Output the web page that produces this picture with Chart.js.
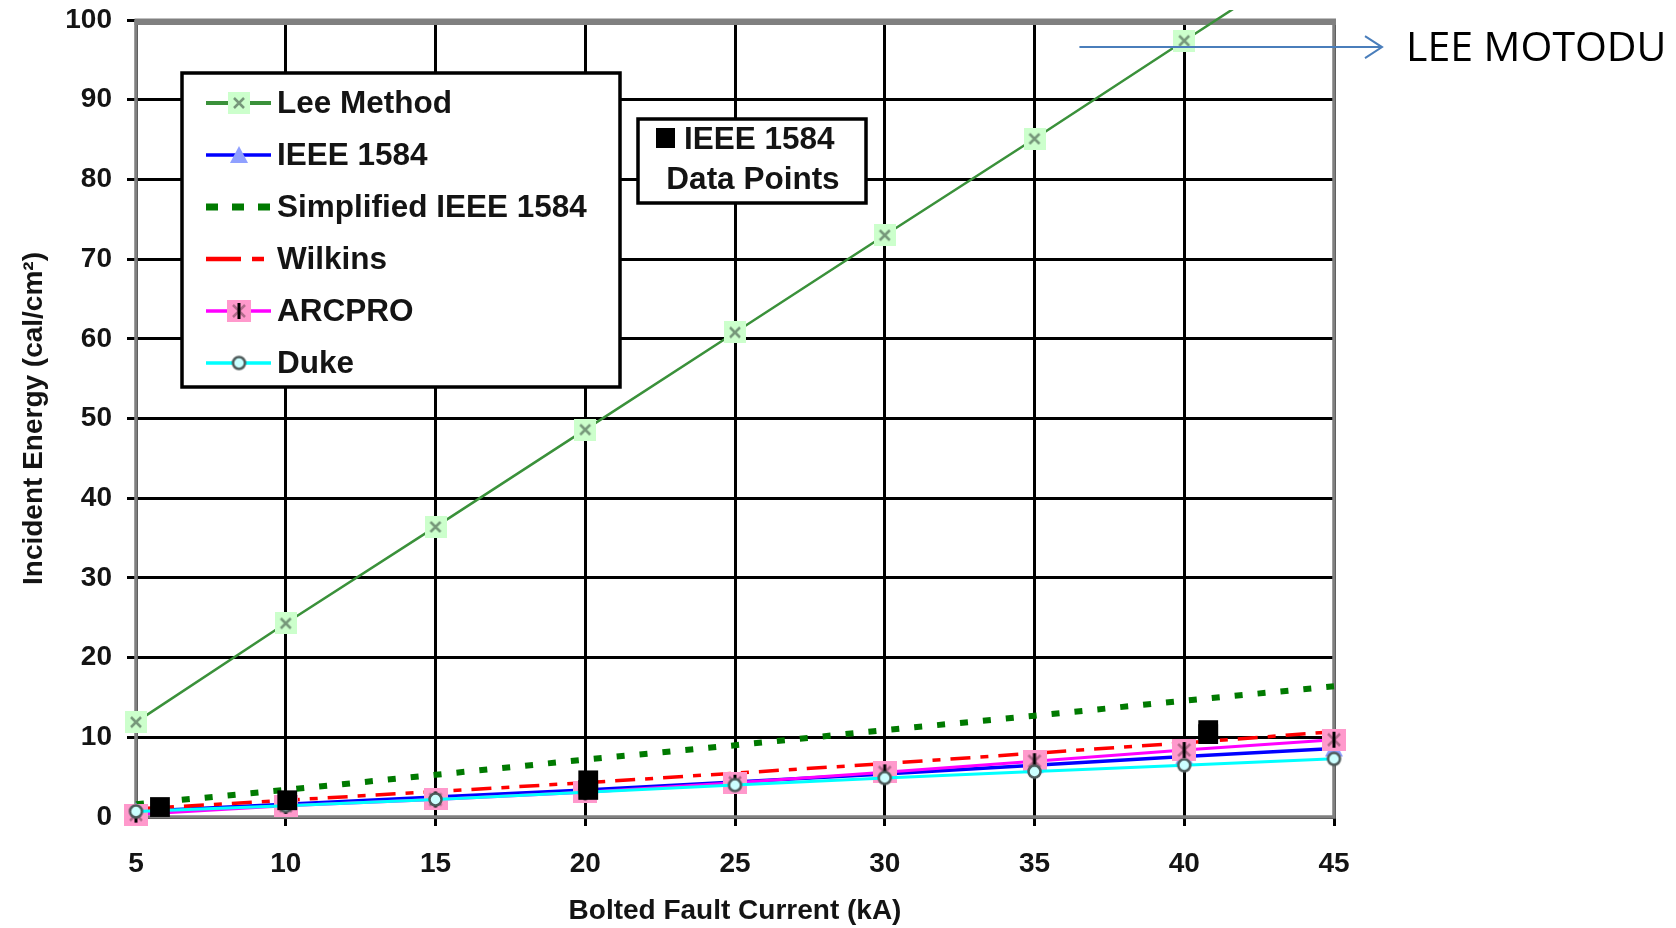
<!DOCTYPE html>
<html>
<head>
<meta charset="utf-8">
<script src="https://cdn.jsdelivr.net/npm/chart.js@4.4.1/dist/chart.umd.min.js"></script>
<style>
  html, body { margin: 0; padding: 0; background: #fff; }
  #caja { width: 1676px; height: 928px; }
</style>
</head>
<body>
<div id="caja"><canvas id="grafico" width="1676" height="928"></canvas></div>
<script>
// DATOS
const corrientes = [5, 10, 15, 20, 25, 30, 35, 40, 45];
const leeMethod = [11.9, 24.3, 36.4, 48.6, 60.8, 73.0, 85.1, 97.4, 109.6];
const ieee1584 = [0.7, 1.6, 2.5, 3.4, 4.4, 5.4, 6.5, 7.6, 8.6];
const simplificado = [1.6, 3.4, 5.3, 7.2, 9.0, 10.9, 12.7, 14.6, 16.4];
const wilkins = [1.0, 2.1, 3.2, 4.3, 5.5, 6.7, 8.0, 9.3, 10.7];
const arcpro = [0.3, 1.4, 2.2, 3.1, 4.3, 5.6, 7.0, 8.4, 9.7];
const duke = [0.7, 1.4, 2.2, 3.1, 4.0, 4.9, 5.7, 6.5, 7.3];

// IEEE 1584 data points (black squares)
const puntosX = [5.8, 10.05, 20.1, 20.1, 40.8, 40.8];
const puntosY = [1.25, 2.1, 3.4, 4.6, 10.4, 10.9];

const ticksX = [5, 10, 15, 20, 25, 30, 35, 40, 45];
const ticksY = [0, 10, 20, 30, 40, 50, 60, 70, 80, 90, 100];

const fuente = 'Liberation Sans, Arial, sans-serif';
const colorTexto = '#141414';

function serie(valores) {
  return corrientes.map((c, i) => ({ x: c, y: valores[i] }));
}

// MARCADORES
function hacerMarcador(w, h, dibujar) {
  const c = document.createElement('canvas');
  c.width = w;
  c.height = h;
  dibujar(c.getContext('2d'), w, h);
  return c;
}

const marcaLee = hacerMarcador(22, 22, (g, w, h) => {
  g.fillStyle = '#ccffcc';
  g.fillRect(0, 0, w, h);
  g.strokeStyle = '#76977a';
  g.lineWidth = 2.5;
  g.beginPath();
  g.moveTo(6, 6); g.lineTo(16, 16);
  g.moveTo(16, 6); g.lineTo(6, 16);
  g.stroke();
});

const marcaIeee = hacerMarcador(20, 20, (g, w, h) => {
  g.fillStyle = '#8fa0ff';
  g.beginPath();
  g.moveTo(w / 2, 1);
  g.lineTo(w - 1, h - 2);
  g.lineTo(1, h - 2);
  g.closePath();
  g.fill();
});

const marcaArcpro = hacerMarcador(24, 22, (g, w, h) => {
  g.fillStyle = '#ff99cc';
  g.fillRect(0, 0, w, h);
  g.strokeStyle = '#b06a8a';
  g.lineWidth = 2.5;
  g.beginPath();
  g.moveTo(6, 5); g.lineTo(18, 17);
  g.moveTo(18, 5); g.lineTo(6, 17);
  g.stroke();
  g.fillStyle = '#000';
  g.fillRect(w / 2 - 1.5, 3, 3, h - 6);
});

const marcaDuke = hacerMarcador(17, 17, (g, w, h) => {
  g.fillStyle = '#ccffff';
  g.strokeStyle = '#4d5a5a';
  g.lineWidth = 2.5;
  g.beginPath();
  g.arc(w / 2, h / 2, 6, 0, Math.PI * 2);
  g.fill();
  g.stroke();
});

// MARCO GRIS
const marco = {
  id: 'marco',
  beforeDatasetsDraw(chart) {
    const { ctx, chartArea: a } = chart;
    ctx.save();
    ctx.strokeStyle = '#808080';
    ctx.lineWidth = 3.5;
    ctx.beginPath();
    ctx.moveTo(a.left, a.top);
    ctx.lineTo(a.left, a.bottom);
    ctx.lineTo(a.right, a.bottom);
    ctx.lineTo(a.right, a.top);
    ctx.stroke();
    ctx.lineWidth = 6.5;
    ctx.beginPath();
    ctx.moveTo(a.left - 1.5, a.top + 1.75);
    ctx.lineTo(a.right + 2, a.top + 1.75);
    ctx.stroke();
    ctx.restore();
  }
};

// LEYENDA, CUADRO DE PUNTOS Y FLECHA
const leyenda = {
  id: 'leyenda',
  afterDraw(chart) {
    const { ctx, chartArea: a } = chart;
    const xs = chart.scales.x, ys = chart.scales.y;
    ctx.save();

    // caja de la leyenda
    const bx = a.left + 46, by = a.top + 53, bw = 438, bh = 314;
    ctx.fillStyle = '#fff';
    ctx.fillRect(bx, by, bw, bh);
    ctx.strokeStyle = '#000';
    ctx.lineWidth = 3.5;
    ctx.strokeRect(bx, by, bw, bh);

    ctx.font = 'bold 31.5px ' + fuente;
    ctx.textBaseline = 'middle';
    ctx.textAlign = 'left';
    const filas = chart.data.datasets.filter(d => d.enLeyenda);
    filas.forEach((d, i) => {
      const fy = by + 30 + i * 52;
      const x0 = bx + 24, x1 = bx + 89;
      ctx.strokeStyle = d.borderColor;
      ctx.lineWidth = d.anchoLeyenda || d.borderWidth;
      ctx.setLineDash(d.rayaLeyenda || []);
      ctx.beginPath();
      ctx.moveTo(x0, fy);
      ctx.lineTo(x1, fy);
      ctx.stroke();
      ctx.setLineDash([]);
      if (d.pointStyle && typeof d.pointStyle === 'object') {
        const m = d.pointStyle;
        ctx.drawImage(m, bx + 57 - m.width / 2, fy - m.height / 2);
      }
      ctx.fillStyle = colorTexto;
      ctx.fillText(d.label, bx + 95, fy + 1);
    });

    // cuadro "IEEE 1584 Data Points"
    const cx = 638, cy = 119, cw = 228, ch = 84;
    ctx.fillStyle = '#fff';
    ctx.fillRect(cx, cy, cw, ch);
    ctx.strokeStyle = '#000';
    ctx.lineWidth = 3.5;
    ctx.strokeRect(cx, cy, cw, ch);
    ctx.fillStyle = '#000';
    ctx.fillRect(cx + 18, cy + 9, 19, 20);
    ctx.fillStyle = colorTexto;
    ctx.textAlign = 'left';
    ctx.fillText('IEEE 1584', cx + 46, cy + 21);
    ctx.textAlign = 'center';
    ctx.fillText('Data Points', cx + 115, cy + 61);

    // flecha hacia Lee Method
    const fy = ys.getPixelForValue(96.6);
    const fx0 = xs.getPixelForValue(36.5);
    const fx1 = a.right + 48;
    ctx.strokeStyle = '#4a7ebb';
    ctx.lineWidth = 2;
    ctx.beginPath();
    ctx.moveTo(fx0, fy);
    ctx.lineTo(fx1, fy);
    ctx.moveTo(fx1 - 17, fy - 11);
    ctx.lineTo(fx1, fy);
    ctx.lineTo(fx1 - 17, fy + 11);
    ctx.stroke();
    ctx.fillStyle = '#000';
    ctx.textAlign = 'left';
    ctx.font = '41px "Open Sans", sans-serif';
    ctx.fillText('LEE MOTODU', a.right + 72, fy + 2);
    ctx.restore();
  }
};

const rejilla = { color: '#000', lineWidth: 3, tickLength: 9, tickWidth: 3, tickColor: '#000' };
const letra = { family: fuente, size: 28, weight: 'bold' };

new Chart(document.getElementById('grafico'), {
  type: 'line',
  data: {
    datasets: [
      {
        label: 'IEEE 1584 Data Points',
        data: puntosX.map((x, i) => ({ x: x, y: puntosY[i] })),
        showLine: false,
        pointStyle: 'rect',
        pointRadius: 14,
        pointBackgroundColor: '#000',
        pointBorderWidth: 0,
        clip: false,
        order: 0
      },
      {
        label: 'Lee Method',
        enLeyenda: true,
        data: serie(leeMethod),
        borderColor: '#3a913a',
        borderWidth: 2.5,
        anchoLeyenda: 4,
        pointStyle: marcaLee,
        pointRadius: 10,
        clip: { left: 20, top: 10, right: 0, bottom: 20 },
        order: 6
      },
      {
        label: 'IEEE 1584',
        enLeyenda: true,
        data: serie(ieee1584),
        borderColor: '#0000ff',
        borderWidth: 3.5,
        pointStyle: marcaIeee,
        pointRadius: 9,
        clip: false,
        order: 4
      },
      {
        label: 'Simplified IEEE 1584',
        enLeyenda: true,
        data: serie(simplificado),
        borderColor: '#007a00',
        borderWidth: 6,
        borderDash: [8, 15],
        rayaLeyenda: [12, 14],
        anchoLeyenda: 7,
        pointRadius: 0,
        clip: false,
        order: 5
      },
      {
        label: 'Wilkins',
        enLeyenda: true,
        data: serie(wilkins),
        borderColor: '#ff0000',
        borderWidth: 3.5,
        borderDash: [20, 10, 8, 10],
        rayaLeyenda: [35, 11, 12, 40],
        anchoLeyenda: 4.5,
        pointRadius: 0,
        clip: false,
        order: 3
      },
      {
        label: 'ARCPRO',
        enLeyenda: true,
        data: serie(arcpro),
        borderColor: '#ff00ff',
        borderWidth: 3,
        anchoLeyenda: 3.5,
        pointStyle: marcaArcpro,
        pointRadius: 10,
        clip: false,
        order: 2
      },
      {
        label: 'Duke',
        enLeyenda: true,
        data: serie(duke),
        borderColor: '#00ffff',
        borderWidth: 3,
        anchoLeyenda: 3.5,
        pointStyle: marcaDuke,
        pointRadius: 8,
        clip: false,
        order: 1
      }
    ]
  },
  options: {
    responsive: false,
    animation: false,
    devicePixelRatio: 1,
    layout: { padding: { top: 20, right: 342, left: 0, bottom: 0 } },
    plugins: {
      legend: { display: false },
      tooltip: { enabled: false }
    },
    elements: { line: { tension: 0, fill: false } },
    scales: {
      x: {
        type: 'linear',
        min: 5,
        max: 45,
        afterBuildTicks: s => { s.ticks = ticksX.map(v => ({ value: v })); },
        ticks: { font: letra, color: colorTexto, padding: 21, maxRotation: 0 },
        grid: rejilla,
        border: { display: false },
        title: {
          display: true,
          text: 'Bolted Fault Current (kA)',
          font: letra,
          color: colorTexto,
          padding: { top: 0, bottom: 0 }
        },
        afterFit: s => { s.height = 111; s.paddingLeft = 0; s.paddingRight = 0; }
      },
      y: {
        type: 'linear',
        min: 0,
        max: 100,
        afterBuildTicks: s => { s.ticks = ticksY.map(v => ({ value: v })); },
        ticks: { font: letra, color: colorTexto, padding: 15 },
        grid: rejilla,
        border: { display: false },
        title: {
          display: true,
          text: 'Incident Energy (cal/cm²)',
          font: letra,
          color: colorTexto,
          padding: { top: 17, bottom: 0 }
        },
        afterFit: s => { s.width = 136; s.paddingTop = 0; s.paddingBottom = 0; }
      }
    }
  },
  plugins: [marco, leyenda]
});
</script>
</body>
</html>
